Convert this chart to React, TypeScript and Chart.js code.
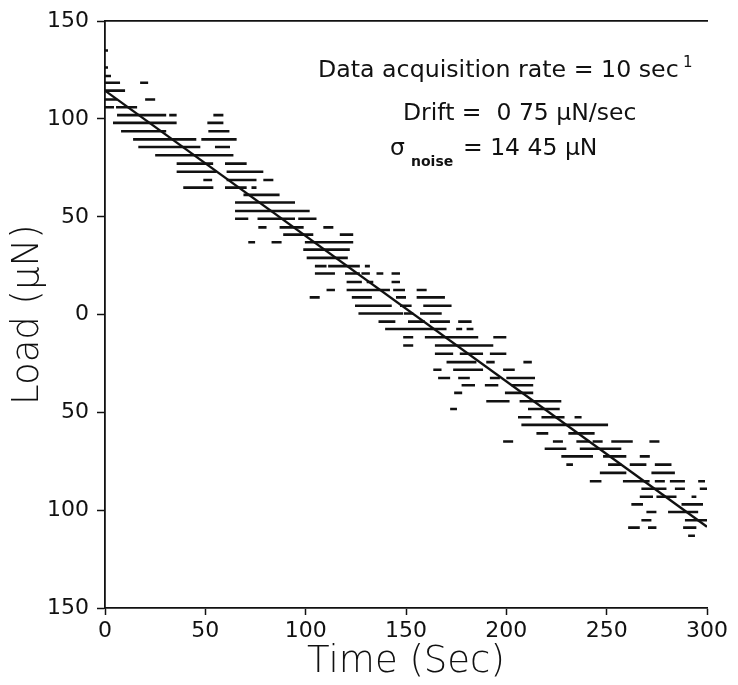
import React, { useEffect, useRef } from 'react';
import { Chart, registerables } from 'chart.js';

Chart.register(...registerables);

// Axis ticks (the scan lost the minus signs on the lower half of the load axis)
const xTickValues = [0, 50, 100, 150, 200, 250, 300];
const xTickLabels = ['0', '50', '100', '150', '200', '250', '300'];
const yTickValues = [-150, -100, -50, 0, 50, 100, 150];
const yTickLabels = ['150', '100', '50', '0', '50', '100', '150'];

// Quantised load levels (μN) and the time spans (sec) where the signal sat on each level
const loadLevels = [
  135, 126.3, 122, 118.5, 114.5, 110, 106, 102, 98, 93.7,
  89.6, 85.7, 81.5, 77.2, 73, 68.8, 64.9, 61.2, 57.3, 53,
  49, 44.6, 40.9, 37, 33.2, 29, 24.8, 21, 16.7, 12.6,
  8.8, 4.5, 0.6, -3.6, -7.4, -11.6, -15.8, -20, -24.3, -28.2,
  -32.4, -36.1, -40, -44.3, -48.3, -52.5, -56.4, -60.7, -64.9, -68.6,
  -72.5, -76.7, -80.9, -85.2, -89, -93.1, -97, -100.9, -105.1, -108.9,
  -113.1,
];

const levelSpans: number[][][] = [
  [[0, 1.5]],
  [[0, 1.5]],
  [[0, 3]],
  [[0, 7.5], [17.5, 21.5]],
  [[0, 10]],
  [[0, 6], [20, 25]],
  [[0, 4.5], [5.5, 16]],
  [[6, 30.5], [32, 35.7], [54, 59]],
  [[4, 35.7], [51, 59]],
  [[8, 30.5], [51.5, 62]],
  [[14, 45.5], [48, 65.6]],
  [[16.6, 47.5], [54.8, 62.3]],
  [[25, 64]],
  [[35.7, 53.9], [59.8, 70.6]],
  [[35.7, 55.6], [60.6, 78.9]],
  [[49, 53.4], [60.6, 75.5], [78.9, 83.9]],
  [[39, 54], [59.8, 70.6], [73, 75.5]],
  [[69, 87]],
  [[64.8, 94.7]],
  [[64.8, 102]],
  [[64.8, 71.4], [76, 94.7], [96.3, 105.4]],
  [[76.4, 80.5], [87, 99], [108.8, 113.8]],
  [[88.8, 103.8], [117, 123.7]],
  [[71.4, 74.8], [83, 88], [99.6, 123.7]],
  [[98.8, 122]],
  [[100.5, 121]],
  [[104.6, 110.4], [111.2, 127], [129.5, 132]],
  [[104.6, 114.6], [119.6, 127], [127.8, 132], [135.3, 138.7], [142.8, 147]],
  [[120.4, 128], [130.4, 133.7], [142.8, 147]],
  [[110.4, 114.6], [120.4, 142], [143.6, 149.5], [155.3, 160.3]],
  [[102, 107], [123, 133], [145, 150], [155.3, 169.4]],
  [[124.6, 142.9], [147, 152.8], [158.6, 172.7]],
  [[126.3, 148.6], [149, 153.6], [157, 167.8]],
  [[136.3, 144.7], [151, 159.4], [161.9, 171.9], [176, 182.7]],
  [[139.6, 170.2], [175, 178], [180.2, 183.6]],
  [[148.6, 153.6], [159.4, 186], [193.5, 200]],
  [[148.6, 153.6], [164.4, 193.5]],
  [[164.4, 173.5], [176.8, 188.4], [191.8, 200]],
  [[170.2, 185.1], [190, 194.2], [208.5, 212.7]],
  [[163.6, 167.7], [173.5, 188.4], [198.4, 204.2]],
  [[166, 172], [176, 181.8], [191.8, 196.8], [200, 214.3]],
  [[177.7, 184.4], [189.3, 196], [202.6, 213.4]],
  [[174, 178], [199.3, 213.4]],
  [[190, 201.6], [206.6, 227.4]],
  [[172, 175.4], [210.8, 226.6]],
  [[205.8, 212.5], [217.5, 229], [234, 237.5]],
  [[207.5, 250.7]],
  [[215, 220.9], [230.9, 244]],
  [[198.4, 203.4], [223.2, 228.2], [234.9, 241.5], [243, 248], [252.3, 263], [271.3, 276.3]],
  [[219.1, 229.9], [236.6, 257.3]],
  [[227.4, 243.2], [248.2, 259.8], [266.5, 271.5]],
  [[229.9, 233.2], [250.7, 257.3], [261.5, 269.8], [274, 282.3]],
  [[246.6, 259.8], [272.3, 284]],
  [[241.6, 247.4], [258.1, 271.4], [274, 279], [281.5, 289], [295.6, 299]],
  [[267.3, 279.8], [284, 289], [296.4, 300]],
  [[266.5, 273.1], [274.8, 284.8], [292.3, 294.7]],
  [[262.3, 268.1], [287.3, 298]],
  [[269.8, 274.8], [280.6, 295.6]],
  [[267.3, 272.3], [289, 300]],
  [[260.7, 266.5], [270.6, 274.8], [288.1, 294.7]],
  [[290.6, 294]],
];

// Linear drift fit
const fitTime = [0, 300];
const fitLoad = [114.5, -108.5];

// Annotation text
const rateText = 'Data acquisition rate = 10 sec';
const rateExponent = '1';
const driftText = 'Drift =  0 75 μN/sec';
const sigmaSymbol = 'σ';
const sigmaSubscript = 'noise';
const sigmaText = '= 14 45 μN';

const INK = '#111';
const FONT = '"DejaVu Sans", "Liberation Sans", sans-serif';

const annotationPlugin = {
  id: 'annotations',
  afterDraw(chart: any) {
    const ctx = chart.ctx;
    ctx.save();
    ctx.fillStyle = INK;
    ctx.textBaseline = 'alphabetic';
    ctx.textAlign = 'left';
    ctx.font = `23.7px ${FONT}`;
    ctx.fillText(rateText, 318, 77);
    ctx.font = `15px ${FONT}`;
    ctx.fillText(rateExponent, 683, 67);
    ctx.font = `23.5px ${FONT}`;
    ctx.fillText(driftText, 403, 120);
    ctx.fillText(sigmaSymbol, 390, 155);
    ctx.font = `bold 14px ${FONT}`;
    ctx.fillText(sigmaSubscript, 411, 166);
    ctx.font = `23.5px ${FONT}`;
    ctx.fillText(sigmaText, 463, 155);
    ctx.restore();
  },
};

export default function App() {
  const canvasRef = useRef<HTMLCanvasElement | null>(null);

  useEffect(() => {
    const canvas = canvasRef.current;
    if (!canvas) return;

    const dashData: { x: number; y: number | null }[] = [];
    loadLevels.forEach((level, i) => {
      levelSpans[i].forEach(([start, end]) => {
        dashData.push({ x: start, y: level });
        dashData.push({ x: end, y: level });
        dashData.push({ x: end, y: null });
      });
    });
    const fitData = fitTime.map((t, i) => ({ x: t, y: fitLoad[i] }));

    const chart = new Chart(canvas, {
      type: 'scatter',
      data: {
        datasets: [
          {
            data: dashData as any,
            showLine: true,
            spanGaps: false,
            borderColor: INK,
            borderWidth: 2.6,
            borderCapStyle: 'butt',
            pointRadius: 0,
            pointHoverRadius: 0,
          },
          {
            data: fitData,
            showLine: true,
            borderColor: INK,
            borderWidth: 2.4,
            pointRadius: 0,
            pointHoverRadius: 0,
          },
        ],
      },
      options: {
        animation: false,
        responsive: false,
        events: [],
        layout: { padding: { top: 20, right: 31, bottom: 0, left: 0 } },
        plugins: {
          legend: { display: false },
          tooltip: { enabled: false },
        },
        scales: {
          x: {
            type: 'linear',
            position: 'bottom',
            min: 0,
            max: 300,
            afterBuildTicks: (s: any) => {
              s.ticks = xTickValues.map((v) => ({ value: v }));
            },
            afterFit: (s: any) => {
              s.height = 77;
            },
            ticks: {
              color: INK,
              font: { family: FONT, size: 22 },
              padding: 3,
              maxRotation: 0,
              callback: (v: any) => xTickLabels[xTickValues.indexOf(Number(v))] ?? '',
            },
            grid: {
              display: true,
              drawOnChartArea: false,
              drawTicks: true,
              tickLength: 7,
              tickColor: INK,
              tickWidth: 1.5,
            },
            border: { display: true, color: INK, width: 1.8 },
            title: {
              display: true,
              text: 'Time (Sec)',
              color: INK,
              font: { family: FONT, size: 37, weight: '300' as any },
              padding: { top: 0, bottom: 0 },
            },
          },
          xTop: {
            type: 'linear',
            position: 'top',
            min: 0,
            max: 300,
            afterFit: (s: any) => {
              s.height = 0;
            },
            ticks: { display: false },
            grid: { display: false },
            border: { display: true, color: INK, width: 1.8 },
          },
          y: {
            type: 'linear',
            position: 'left',
            min: -150,
            max: 150,
            afterBuildTicks: (s: any) => {
              s.ticks = yTickValues.map((v) => ({ value: v }));
            },
            afterFit: (s: any) => {
              s.width = 105;
            },
            ticks: {
              color: INK,
              font: { family: FONT, size: 22 },
              padding: 8,
              callback: (v: any) => yTickLabels[yTickValues.indexOf(Number(v))] ?? '',
            },
            grid: {
              display: true,
              drawOnChartArea: false,
              drawTicks: true,
              tickLength: 8,
              tickColor: INK,
              tickWidth: 1.5,
            },
            border: { display: true, color: INK, width: 1.8 },
            title: {
              display: true,
              text: 'Load (μN)',
              color: INK,
              font: { family: FONT, size: 37, weight: '300' as any },
              padding: { top: 6, bottom: 0 },
            },
          },
        },
      },
      plugins: [annotationPlugin],
    });

    return () => chart.destroy();
  }, []);

  return (
    <div style={{ position: 'absolute', left: 0, top: 0, width: 738, height: 685, background: '#fff' }}>
      <canvas ref={canvasRef} width={738} height={685} style={{ display: 'block' }} />
    </div>
  );
}
